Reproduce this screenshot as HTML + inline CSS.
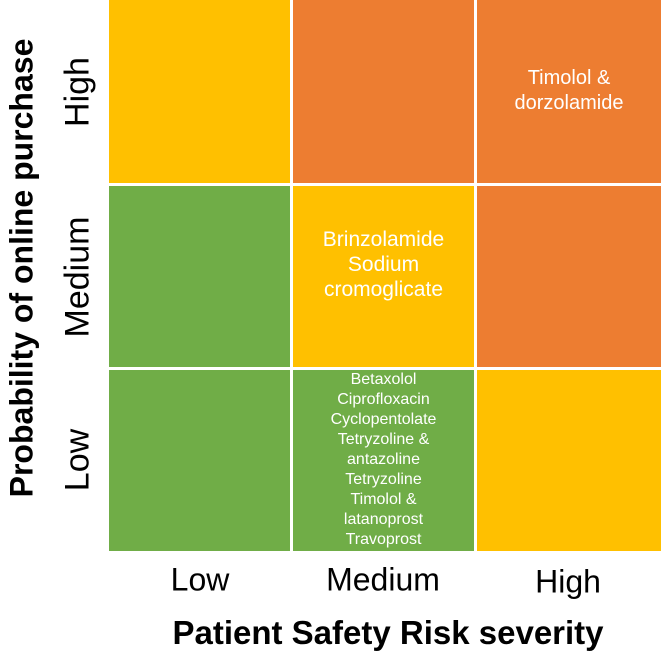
<!DOCTYPE html>
<html><head><meta charset="utf-8"><style>
body{margin:0;width:661px;height:657px;background:#fff;overflow:hidden;font-family:"Liberation Sans",Arial,sans-serif;position:relative}
.c{position:absolute;color:#fff;text-align:center;display:flex;flex-direction:column;align-items:center}
.t{position:absolute;font-size:32px;color:#000}
.r{position:absolute;transform:translate(-50%,-50%) rotate(-90deg);white-space:nowrap}
</style></head><body>
<div id="grid"></div>
<div class="t" style="left:200px;top:580px;transform:translate(-50%,-50%)">Low</div>
<div class="t" style="left:383px;top:580px;transform:translate(-50%,-50%)">Medium</div>
<div class="t" style="left:568px;top:582px;transform:translate(-50%,-50%)">High</div>
<div class="t" style="left:388px;top:633px;transform:translate(-50%,-50%);font-weight:bold;font-size:33px;white-space:nowrap">Patient Safety Risk severity</div>
<div class="t r" style="left:22px;top:268px;font-weight:bold;font-size:32px">Probability of online purchase</div>
<div class="t r" style="left:78px;top:92px;font-size:34px">High</div>
<div class="t r" style="left:78px;top:277px;font-size:34px">Medium</div>
<div class="t r" style="left:78px;top:460px;font-size:34px">Low</div>
<script>
const rows=["High","Medium","Low"];
const cols=["Low","Medium","High"];
const colors=[["#FFC000","#ED7D31","#ED7D31"],["#70AD47","#FFC000","#ED7D31"],["#70AD47","#70AD47","#FFC000"]];
const labels=[["","","Timolol &\ndorzolamide"],["","Brinzolamide\nSodium\ncromoglicate",""],["","Betaxolol\nCiprofloxacin\nCyclopentolate\nTetryzoline &\nantazoline\nTetryzoline\nTimolol &\nlatanoprost\nTravoprost",""]];
const xs=[109,293,477],ys=[0,186,370],w=[181,181,184],h=[183,181,181];
const g=document.getElementById('grid');
for(let r=0;r<3;r++)for(let c=0;c<3;c++){
 const d=document.createElement('div');
 
 
 d.className='c';
 const small=labels[r][c].split('\n').length>4;
 const fs=small?16:(r==0?20:21);
 d.style.cssText+=`left:${xs[c]}px;top:${ys[r]}px;width:${w[c]}px;height:${h[r]}px;background:${colors[r][c]};font-size:${fs}px;line-height:${small?20:25}px;padding-top:${small?0:(r==0?66:41)}px;box-sizing:border-box;white-space:pre-line;overflow:hidden`;
 d.textContent=labels[r][c];
 g.appendChild(d);
}
</script>
</body></html>
